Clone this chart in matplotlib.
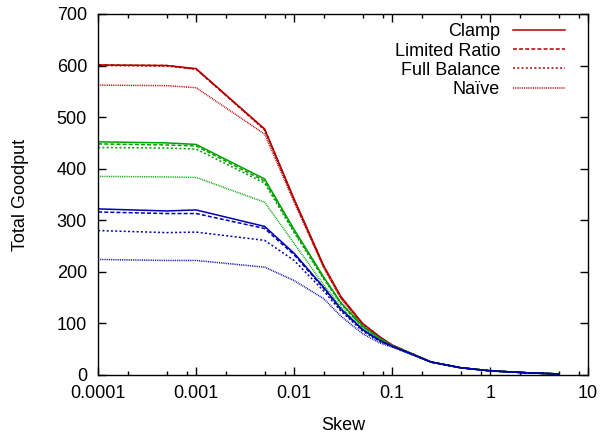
import numpy as np
import matplotlib
matplotlib.use("Agg")
import matplotlib.pyplot as plt
from matplotlib.ticker import LogLocator, NullFormatter, FixedLocator

plt.rcParams['font.family'] = ['Liberation Sans', 'DejaVu Sans']

# skew values (x)
skew = [0.0001, 0.0005, 0.001, 0.005, 0.01, 0.02, 0.03, 0.05, 0.075, 0.1, 0.25, 0.5, 1, 2.5, 5]

tail = [25, 14, 8, 4, 2]

# red group
red_clamp   = [601, 600, 594, 477, 341, 212, 152, 100, 74, 58] + tail
red_limited = [601, 600, 593, 476, 340, 211, 151, 99, 73, 58] + tail
red_full    = [600, 599, 593, 475, 339, 210, 150, 99, 73, 58] + tail
red_naive   = [562, 561, 557, 467, 335, 208, 148, 97, 72, 57] + tail

# green group
green_clamp   = [452, 450, 447, 380, 282, 190, 140, 95, 71, 57] + tail
green_limited = [448, 446, 444, 376, 279, 188, 139, 94, 70, 57] + tail
green_full    = [441, 440, 438, 372, 276, 186, 138, 93, 70, 57] + tail
green_naive   = [385, 384, 383, 335, 255, 175, 132, 90, 68, 56] + tail

# blue group
blue_clamp   = [322, 318, 320, 288, 236, 170, 128, 88, 67, 56] + tail
blue_limited = [316, 313, 313, 284, 233, 168, 127, 87, 66, 56] + tail
blue_full    = [280, 276, 277, 261, 222, 163, 124, 85, 65, 55] + tail
blue_naive   = [224, 222, 222, 209, 183, 148, 114, 80, 62, 54] + tail

labels = ["Clamp", "Limited Ratio", "Full Balance", "Na\u00efve"]
dashes = [None, (2.6, 1.4), (1.3, 1.5), (0.6, 0.6)]

groups = [
    ("#b00000", [red_clamp, red_limited, red_full, red_naive]),
    ("#00a000", [green_clamp, green_limited, green_full, green_naive]),
    ("#0000b0", [blue_clamp, blue_limited, blue_full, blue_naive]),
]

fig = plt.figure(figsize=(6.02, 4.36), dpi=100)
ax = fig.add_axes([0.163, 0.14, 0.814, 0.828])

# draw in reverse so solid lines sit on top
for gi, (col, series) in enumerate(groups):
    for i in range(3, -1, -1):
        kw = dict(color=col, lw=1.1)
        if dashes[i] is not None:
            kw["dashes"] = dashes[i]
        lab = labels[i] if gi == 0 else None
        ax.plot(skew, series[i], label=lab, **kw)

ax.set_xscale("log")
ax.set_xlim(0.0001, 10)
ax.set_ylim(0, 700)
ax.set_xticks([0.0001, 0.001, 0.01, 0.1, 1, 10])
ax.set_xticklabels(["0.0001", "0.001", "0.01", "0.1", "1", "10"])
ax.xaxis.set_minor_locator(LogLocator(base=10, subs=(2, 5, 8)))
ax.xaxis.set_minor_formatter(NullFormatter())
ax.yaxis.set_major_locator(FixedLocator(range(0, 701, 100)))

ax.tick_params(which="both", direction="in", top=True, right=True, labelsize=13)
ax.tick_params(which="major", length=6, width=1)
ax.tick_params(which="minor", length=3, width=1)
ax.tick_params(axis="x", pad=7)
ax.tick_params(axis="y", pad=8)
for s in ax.spines.values():
    s.set_linewidth(1)

ax.set_xlabel("Skew", fontsize=13, labelpad=11)
ax.set_ylabel("Total Goodput", fontsize=13, labelpad=20)

h, l = ax.get_legend_handles_labels()
hd = {lab: hh for hh, lab in zip(h, l)}
ax.legend([hd[x] for x in labels], labels, loc="upper right", frameon=False,
          fontsize=13, markerfirst=False, handlelength=2.9, handletextpad=0.7,
          labelspacing=0.12, borderpad=0, borderaxespad=0,
          bbox_to_anchor=(0.953, 0.974))

fig.savefig("out.png", dpi=100)
